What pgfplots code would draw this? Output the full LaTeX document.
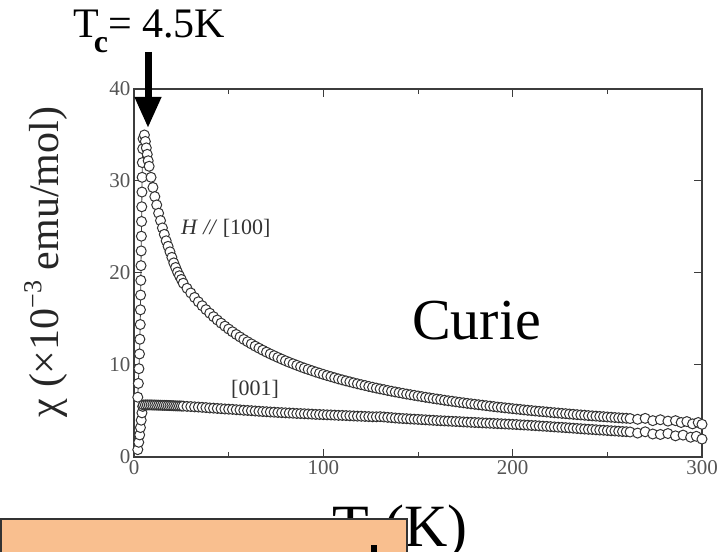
\documentclass[border=0pt]{standalone}
\usepackage{fontspec}
\setmainfont{Liberation Serif}
\usepackage{pgfplots}
\pgfplotsset{compat=1.18}
\usetikzlibrary{arrows.meta}
\definecolor{peach}{RGB}{249,191,143}
\definecolor{axgray}{RGB}{60,60,60}
\definecolor{tickgray}{RGB}{85,85,85}
\begin{document}
\begin{tikzpicture}
\useasboundingbox (0,0) rectangle (725bp,552bp);
\begin{axis}[
  at={(134bp,95bp)}, anchor=south west,
  scale only axis, width=568bp, height=368bp,
  xmin=0, xmax=300, ymin=0, ymax=40,
  xtick={0,100,200,300}, ytick={0,10,20,30,40},
  minor x tick num=1,
  tick align=inside,
  major tick length=8bp, minor tick length=5bp,
  axis line style={draw=axgray, line width=1.3bp},
  every tick/.style={draw=axgray, line width=1bp},
  /pgf/number format/assume math mode=true,
  tick label style={font=\fontsize{21bp}{21bp}\selectfont, text=tickgray},
  clip=false,
]
\addplot[draw=black!75, line width=0.8bp, mark=*, mark size=5bp,
  mark options={fill=white, draw=black!80, line width=1bp}] table {
2.0 6.5
2.3 8.0
2.6 9.6
2.9 11.2
3.1 12.8
3.3 14.4
3.4 16.0
3.5 17.6
3.6 19.2
3.7 20.8
3.8 22.4
3.9 24.0
4.0 25.6
4.1 27.2
4.2 28.8
4.3 30.4
4.4 32.0
4.6 33.5
4.8 34.6
5.5 35.0
6.0 34.3
6.5 33.6
7.0 32.9
7.5 32.2
8.0 31.6
9.0 30.4
10.0 29.3
11.0 28.3
12.0 27.4
13.0 26.5
14.0 25.7
15.0 24.9
16.0 24.2
17.0 23.5
18.0 22.9
19.0 22.3
20.0 21.7
21.0 21.1
22.0 20.6
23.0 20.1
24.0 19.7
25.0 19.3
26 18.89
28 18.34
30 17.83
32 17.34
34 16.87
36 16.44
38 16.02
40 15.63
42 15.25
44 14.89
46 14.55
48 14.22
50 13.91
52 13.61
54 13.32
56 13.05
58 12.78
60 12.53
62 12.29
64 12.05
66 11.83
68 11.61
70 11.40
72 11.20
74 11.01
76 10.82
78 10.64
80 10.46
82 10.29
84 10.13
86 9.97
88 9.81
90 9.66
92 9.52
94 9.38
96 9.24
98 9.11
100 8.98
102 8.85
104 8.73
106 8.61
108 8.49
110 8.38
112 8.27
114 8.17
116 8.06
118 7.96
120 7.86
122 7.77
124 7.67
126 7.58
128 7.49
130 7.40
132 7.32
134 7.23
136 7.15
138 7.07
140 6.99
142 6.92
144 6.84
146 6.77
148 6.70
150 6.63
152 6.56
154 6.49
156 6.43
158 6.36
160 6.30
162 6.24
164 6.17
166 6.11
168 6.06
170 6.00
172 5.94
174 5.89
176 5.83
178 5.78
180 5.73
182 5.68
184 5.63
186 5.58
188 5.53
190 5.48
192 5.43
194 5.39
196 5.34
198 5.30
200 5.25
202 5.21
204 5.17
206 5.12
208 5.08
210 5.04
212 5.00
214 4.96
216 4.93
218 4.89
220 4.85
222 4.81
224 4.78
226 4.74
228 4.71
230 4.67
232 4.64
234 4.60
236 4.57
238 4.54
240 4.50
242 4.47
244 4.44
246 4.41
248 4.38
250 4.35
252 4.32
254 4.29
256 4.26
258 4.23
260 4.21
262 4.18
266 4.10
270 4.20
274 3.95
278 4.05
282 3.90
286 3.95
289 3.75
292 3.85
295 3.60
298 3.75
300 3.55
};
\addplot[draw=black!75, line width=0.8bp, mark=*, mark size=5bp,
  mark options={fill=white, draw=black!80, line width=1bp}] table {
2.0 0.8
2.5 1.6
3.0 2.4
3.4 3.2
3.8 4.0
4.2 4.8
4.6 5.5
5 5.65
6 5.66
7 5.66
8 5.66
9 5.66
10 5.65
11 5.65
12 5.64
13 5.63
14 5.63
15 5.62
16 5.62
17 5.61
18 5.60
19 5.59
20 5.58
21 5.57
22 5.56
23 5.55
24 5.55
25 5.54
26 5.53
28 5.50
30 5.48
32 5.45
34 5.43
36 5.40
38 5.37
40 5.33
42 5.31
44 5.28
46 5.25
48 5.22
50 5.20
52 5.18
54 5.14
56 5.12
58 5.08
60 5.06
62 5.03
64 5.00
66 4.97
68 4.94
70 4.92
72 4.89
74 4.87
76 4.84
78 4.82
80 4.80
82 4.78
84 4.76
86 4.73
88 4.72
90 4.70
92 4.68
94 4.66
96 4.63
98 4.62
100 4.60
102 4.58
104 4.57
106 4.55
108 4.53
110 4.52
112 4.50
114 4.48
116 4.46
118 4.44
120 4.43
122 4.41
124 4.39
126 4.37
128 4.37
130 4.38
132 4.35
134 4.31
136 4.28
138 4.24
140 4.21
142 4.18
144 4.16
146 4.13
148 4.11
150 4.09
152 4.06
154 4.04
156 4.01
158 3.99
160 3.96
162 3.94
164 3.92
166 3.90
168 3.88
170 3.86
172 3.84
174 3.81
176 3.79
178 3.77
180 3.75
182 3.73
184 3.71
186 3.69
188 3.67
190 3.65
192 3.63
194 3.61
196 3.59
198 3.57
200 3.55
202 3.53
204 3.50
206 3.48
208 3.46
210 3.43
212 3.41
214 3.38
216 3.35
218 3.33
220 3.30
222 3.27
224 3.24
226 3.22
228 3.19
230 3.16
232 3.13
234 3.10
236 3.07
238 3.04
240 3.01
242 2.99
244 2.96
246 2.93
248 2.91
250 2.88
252 2.85
254 2.83
256 2.80
258 2.77
260 2.75
262 2.72
266 2.60
270 2.74
274 2.50
278 2.45
282 2.55
286 2.30
290 2.38
294 2.15
297 2.25
300 1.95
};
\node[anchor=west, text=black!80, font=\fontsize{22bp}{22bp}\selectfont] at (axis cs:23,24.9) {\textit{H} \textit{//} [100]};
\node[anchor=west, text=black!80, font=\fontsize{22bp}{22bp}\selectfont] at (axis cs:49.5,7.3) {[001]};
\end{axis}
% y label
\node[rotate=90, text=black!85, font=\fontsize{42bp}{42bp}\selectfont] at (46bp,290bp)
  {χ (×10\raisebox{0.42em}{\fontsize{26bp}{26bp}\selectfont −3} emu/mol)};
% Curie
\node[anchor=base west, inner sep=0pt, font=\fontsize{58bp}{58bp}\selectfont] at (412bp,212bp) {Curie};
% Tc label
\node[anchor=base west, inner sep=0pt, font=\fontsize{42bp}{42bp}\selectfont] at (73bp,514bp)
  {T\kern-5bp\raisebox{-15bp}{\fontsize{32bp}{32bp}\selectfont\bfseries c}= 4.5K};
\draw[line width=7bp, -{Triangle[width=25bp,length=31bp]}] (148bp,500bp) -- (148bp,424bp);
% x label
\node[anchor=base, inner sep=0pt, font=\fontsize{60bp}{60bp}\selectfont] at (400bp,6bp) {T (K)};
% overlay box
\filldraw[fill=peach, draw=black!80, line width=1.3bp] (1bp,-10bp) rectangle (407bp,33bp);
\fill[black] (371bp,0bp) rectangle (377bp,7bp);
\end{tikzpicture}
\end{document}
